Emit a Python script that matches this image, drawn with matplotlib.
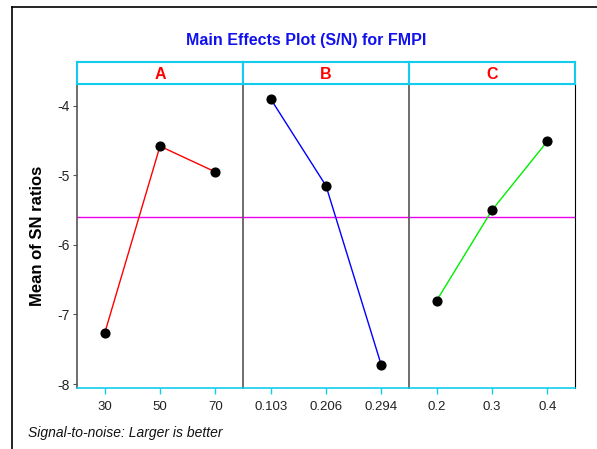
# Main Effects Plot (S/N) for FMPI

import matplotlib
matplotlib.use("Agg")
import matplotlib.pyplot as plt
from matplotlib.lines import Line2D
import numpy as np

# データ
factors = ["A", "B", "C"]
levels = [["30", "50", "70"], ["0.103", "0.206", "0.294"], ["0.2", "0.3", "0.4"]]
sn_A = [-7.27, -4.58, -4.95]
sn_B = [-3.90, -5.15, -7.73]
sn_C = [-6.80, -5.50, -4.51]
sn_values = [sn_A, sn_B, sn_C]
line_colors = ["#ff0000", "#0000ff", "#00ee00"]
yticks = [-4, -5, -6, -7, -8]

mean_sn = np.mean(sn_A + sn_B + sn_C)

plt.rcParams["font.family"] = ["Liberation Sans", "DejaVu Sans"]

W, H = 597, 449
fig = plt.figure(figsize=(W / 100, H / 100), dpi=100)

cyan = "#11ccee"
gray = "#555555"

# 外枠
fig.add_artist(Line2D([12 / W, 12 / W], [0, 1 - 7 / H], color="black", lw=1.2))
fig.add_artist(Line2D([12 / W, 1], [1 - 7 / H, 1 - 7 / H], color="black", lw=1.2))

left, right = 77 / W, 575 / W
bottom, top = 1 - 388 / H, 1 - 84 / H
hdr_top = 1 - 62 / H
pw = (right - left) / 3

axes = []
for i, f in enumerate(factors):
    x0 = left + i * pw
    ax = fig.add_axes([x0, bottom, pw, top - bottom], sharey=axes[0] if axes else None)
    axes.append(ax)
    x = np.arange(1, 4)
    ax.axhline(mean_sn, color="#ee00ee", lw=1, zorder=1)
    ax.plot(x, sn_values[i], color=line_colors[i], lw=1, zorder=2)
    ax.plot(x, sn_values[i], "o", color="black", ms=6.3, zorder=3)
    ax.set_xlim(0.5, 3.5)
    ax.set_ylim(-8.057, -3.686)
    ax.set_xticks(x)
    ax.set_xticklabels(levels[i], fontsize=9.5, color="#222222")
    ax.tick_params(axis="x", colors=cyan, labelcolor="#222222", length=4, width=1, pad=5)
    ax.spines["bottom"].set_color(cyan)
    ax.spines["bottom"].set_linewidth(1.2)
    ax.spines["top"].set_color("#55ddff")
    ax.spines["top"].set_linewidth(1.5)
    ax.spines["left"].set_color(gray)
    ax.spines["left"].set_linewidth(1.2)
    ax.spines["right"].set_visible(i == 2)
    ax.spines["right"].set_color("black")
    if i == 0:
        ax.set_yticks(yticks)
        ax.set_yticklabels([str(v) for v in yticks], fontsize=10, color="#222222")
        ax.tick_params(axis="y", length=3, color=gray, pad=2)
        ax.set_ylabel("Mean of SN ratios", fontsize=12, fontweight="bold", labelpad=9)
    else:
        ax.tick_params(axis="y", left=False, labelleft=False)

    # ヘッダー
    hx = fig.add_axes([x0, top, pw, hdr_top - top])
    hx.set_xticks([])
    hx.set_yticks([])
    for s in hx.spines.values():
        s.set_color(cyan)
        s.set_linewidth(1.5)
    hx.text(0.5, 0.45, f, ha="center", va="center", color="#ff0000",
            fontsize=11.5, fontweight="bold", transform=hx.transAxes)

fig.text(306 / W, 1 - 40 / H, "Main Effects Plot (S/N) for FMPI",
         ha="center", va="center", color="#1111ee", fontsize=11.5, fontweight="bold")
fig.text(28 / W, 1 - 433 / H, "Signal-to-noise: Larger is better",
         ha="left", va="center", fontsize=10, style="italic", color="#111111")

fig.savefig("out.png", dpi=100)
